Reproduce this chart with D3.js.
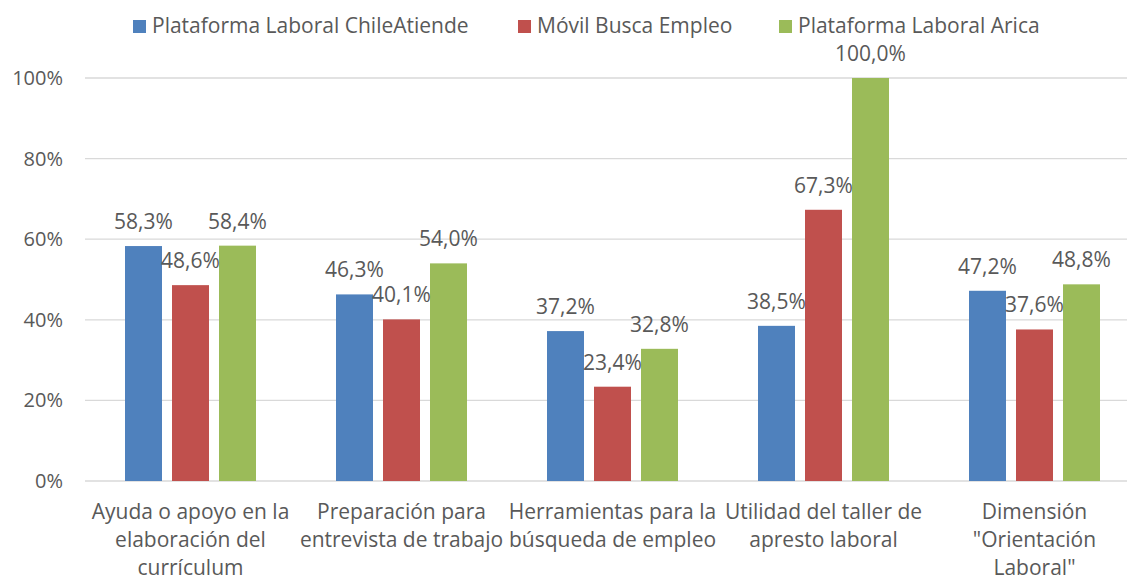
<!DOCTYPE html>
<html>
<head>
<meta charset="utf-8">
<script src="https://cdn.jsdelivr.net/npm/d3@7"></script>
<style>
  body { margin: 0; background: #fff; }
  text { font-family: "Open Sans", sans-serif; fill: #595959; }
</style>
</head>
<body>
<script>
'use strict';

// data
const categories = [
  "Ayuda o apoyo en la\nelaboración del\ncurrículum",
  "Preparación para\nentrevista de trabajo",
  "Herramientas para la\nbúsqueda de empleo",
  "Utilidad del taller de\napresto laboral",
  "Dimensión\n\"Orientación\nLaboral\""
];
const seriesNames = ["Plataforma Laboral ChileAtiende", "Móvil Busca Empleo", "Plataforma Laboral Arica"];
const chileAtiende = [58.3, 46.3, 37.2, 38.5, 47.2];
const movilBusca = [48.6, 40.1, 23.4, 67.3, 37.6];
const arica = [58.4, 54.0, 32.8, 100.0, 48.8];
const yTicks = [0, 20, 40, 60, 80, 100];
const colors = ["#4F81BD", "#C0504D", "#9BBB59"];

(function() {
  const width = 1127, height = 576;
  const allSeries = [chileAtiende, movilBusca, arica];

  let svg = d3.select('body')
    .append('svg')
    .attr('width', width)
    .attr('height', height);

  // scales
  let x0 = d3.scaleBand()
    .domain(categories)
    .range([85, 1140])
    .paddingInner(0)
    .paddingOuter(0);

  let x1 = d3.scaleBand()
    .domain(d3.range(seriesNames.length))
    .range([0, 131])
    .paddingInner(10 / 47)
    .paddingOuter(0);
  let innerOffset = (x0.bandwidth() - 131) / 2;

  let y = d3.scaleLinear()
    .domain([0, 100])
    .range([481, 78]);

  // gridlines
  svg.append('g')
    .selectAll('line')
    .data(yTicks)
    .enter()
    .append('line')
      .attr('x1', 85)
      .attr('x2', 1140)
      .attr('y1', (d) => y(d))
      .attr('y2', (d) => y(d))
      .attr('stroke', '#D9D9D9')
      .attr('stroke-width', 1.3);

  // y axis labels
  let yAxis = d3.axisLeft(y)
    .tickValues(yTicks)
    .tickSize(0)
    .tickPadding(0)
    .tickFormat((d) => d + "%");
  let yG = svg.append('g')
    .attr('transform', 'translate(63, 0)')
    .call(yAxis);
  yG.select('.domain').remove();
  yG.selectAll('text')
    .style('font-size', '20px')
    .attr('fill', '#595959')
    .style('font-family', '"Open Sans", sans-serif');

  // bars
  let groups = svg.selectAll('.grp')
    .data(categories)
    .enter()
    .append('g')
      .attr('class', 'grp')
      .attr('transform', (d) => 'translate(' + (x0(d) + innerOffset) + ',0)');

  groups.selectAll('rect')
    .data((d, i) => allSeries.map((s, k) => ({k: k, v: s[i]})))
    .enter()
    .append('rect')
      .attr('x', (d) => x1(d.k))
      .attr('y', (d) => y(d.v))
      .attr('width', x1.bandwidth())
      .attr('height', (d) => y(0) - y(d.v))
      .attr('fill', (d) => colors[d.k]);

  // data labels
  groups.selectAll('.lbl')
    .data((d, i) => allSeries.map((s, k) => ({k: k, v: s[i]})))
    .enter()
    .append('text')
      .attr('class', 'lbl')
      .attr('x', (d) => x1(d.k) + x1.bandwidth() / 2)
      .attr('y', (d) => y(d.v) - 17)
      .attr('text-anchor', 'middle')
      .style('font-size', '21px')
      .text((d) => d.v.toFixed(1).replace('.', ',') + '%');

  // category labels
  let catLabels = svg.selectAll('.cat')
    .data(categories)
    .enter()
    .append('text')
      .attr('class', 'cat')
      .attr('text-anchor', 'middle')
      .style('font-size', '21px');
  catLabels.selectAll('tspan')
    .data((d) => d.split('\n').map((line) => ({line: line, cat: d})))
    .enter()
    .append('tspan')
      .attr('x', (d) => x0(d.cat) + x0.bandwidth() / 2)
      .attr('y', (d, i) => 519 + i * 28)
      .text((d) => d.line);

  // legend
  let legendX = [133, 518, 779];
  let legend = svg.selectAll('.leg')
    .data(seriesNames)
    .enter()
    .append('g')
      .attr('class', 'leg')
      .attr('transform', (d, i) => 'translate(' + legendX[i] + ',0)');
  legend.append('rect')
    .attr('x', 0)
    .attr('y', 20)
    .attr('width', 13)
    .attr('height', 13)
    .attr('fill', (d, i) => colors[i]);
  legend.append('text')
    .attr('x', 19)
    .attr('y', 33)
    .style('font-size', '21px')
    .text((d) => d);
})();
</script>
</body>
</html>
